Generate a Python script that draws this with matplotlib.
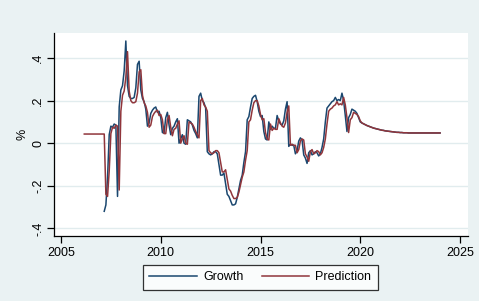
import matplotlib
matplotlib.use("Agg")
import matplotlib.pyplot as plt
import numpy as np

plt.rcParams['font.family'] = ['Liberation Sans', 'DejaVu Sans']

# Monthly data. Growth starts 2007-03; Prediction starts 2006-03.
growth_start = 2007 + 2 / 12
pred_start = 2006 + 2 / 12

growth_main = [
    -0.32, -0.29, -0.16, 0.04, 0.08, 0.075, 0.09, 0.085, -0.25, 0.17,
    0.25, 0.27, 0.34, 0.48, 0.27, 0.22, 0.21, 0.21, 0.215, 0.26,
    0.37, 0.385, 0.25, 0.21, 0.195, 0.16, 0.08, 0.095, 0.14, 0.155,
    0.165, 0.17, 0.145, 0.15, 0.12, 0.05, 0.047, 0.12, 0.145, 0.085,
    0.04, 0.07, 0.08, 0.10, 0.115, 0.0, 0.02, 0.04, 0.0, -0.005,
    0.11, 0.105, 0.10, 0.085, 0.06, 0.045, 0.025, 0.22, 0.235, 0.20,
    0.19, 0.165, -0.04, -0.05, -0.055, -0.05, -0.04, -0.04, -0.05, -0.10,
    -0.15, -0.15, -0.14, -0.19, -0.24, -0.25, -0.27, -0.29, -0.29, -0.285,
    -0.255, -0.215, -0.175, -0.15, -0.09, -0.04, 0.11, 0.125, 0.17, 0.21,
    0.22, 0.225, 0.195, 0.15, 0.125, 0.13, 0.055, 0.02, 0.015, 0.10,
    0.065, 0.08, 0.07, 0.07, 0.13, 0.105, 0.09, 0.085, 0.105, 0.16,
    0.195, -0.015, -0.005, -0.01, -0.01, -0.05, -0.035, 0.01, 0.025, 0.015,
    -0.055, -0.07, -0.095, -0.045, -0.035, -0.055, -0.05, -0.04, -0.045, -0.06,
    -0.05, -0.02, 0.02, 0.10, 0.165, 0.175, 0.185, 0.195, 0.20, 0.215,
    0.20, 0.205, 0.20, 0.235, 0.20, 0.13, 0.055, 0.12, 0.135, 0.16,
    0.155, 0.15, 0.14, 0.12, 0.10,
]

prediction_main = [
    0.043, 0.043, 0.043, 0.043, 0.043, 0.043, 0.043, 0.043, 0.043, 0.043,
    0.043, 0.043, 0.043,
    -0.24, -0.25, -0.13, 0.045, 0.075, 0.07, 0.085, 0.08, -0.22, 0.15,
    0.225, 0.245, 0.31, 0.43, 0.245, 0.20, 0.19, 0.19, 0.195, 0.235,
    0.335, 0.345, 0.225, 0.19, 0.175, 0.145, 0.075, 0.085, 0.125, 0.14,
    0.15, 0.155, 0.13, 0.135, 0.11, 0.045, 0.045, 0.11, 0.13, 0.075,
    0.035, 0.065, 0.07, 0.09, 0.105, 0.0, 0.02, 0.035, 0.0, -0.005,
    0.10, 0.095, 0.09, 0.075, 0.055, 0.04, 0.025, 0.20, 0.21, 0.18,
    0.17, 0.15, -0.035, -0.045, -0.05, -0.045, -0.035, -0.035, -0.045, -0.09,
    -0.135, -0.135, -0.125, -0.17, -0.215, -0.225, -0.245, -0.26, -0.26, -0.255,
    -0.23, -0.195, -0.16, -0.135, -0.08, -0.035, 0.10, 0.11, 0.155, 0.19,
    0.20, 0.20, 0.175, 0.135, 0.11, 0.115, 0.05, 0.02, 0.015, 0.09,
    0.06, 0.07, 0.065, 0.065, 0.115, 0.095, 0.08, 0.075, 0.095, 0.145,
    0.175, -0.01, -0.005, -0.01, -0.01, -0.045, -0.03, 0.01, 0.02, 0.015,
    -0.05, -0.065, -0.085, -0.04, -0.03, -0.05, -0.045, -0.035, -0.04, -0.055,
    -0.045, -0.02, 0.02, 0.09, 0.15, 0.16, 0.165, 0.175, 0.18, 0.195,
    0.18, 0.185, 0.18, 0.215, 0.18, 0.12, 0.05, 0.11, 0.12, 0.145,
    0.14, 0.135, 0.125, 0.105,
]

# Shared smooth forecast tail (2020-02 .. 2024-01)
tail = [
    0.095, 0.091, 0.087, 0.083, 0.080, 0.077, 0.074, 0.071, 0.069, 0.067,
    0.065, 0.063, 0.061, 0.060, 0.058, 0.057, 0.056, 0.055, 0.054, 0.053,
    0.052, 0.051, 0.051, 0.050, 0.050, 0.049, 0.049, 0.049, 0.048, 0.048,
    0.048, 0.048, 0.048, 0.048, 0.048, 0.048, 0.048, 0.048, 0.048, 0.048,
    0.048, 0.048, 0.048, 0.048, 0.048, 0.048, 0.048, 0.048,
]

growth = np.array(growth_main + tail)
prediction = np.array(prediction_main + tail)
t_growth = growth_start + np.arange(len(growth)) / 12
t_pred = pred_start + np.arange(len(prediction)) / 12

xticks = [2005, 2010, 2015, 2020, 2025]
yticks = [-0.4, -0.2, 0.0, 0.2, 0.4]
ytick_labels = ["-.4", "-.2", "0", ".2", ".4"]

bg = "#EAF2F3"
grid_c = "#E1ECEE"
c_growth = "#1A476F"
c_pred = "#90353B"

fig = plt.figure(figsize=(4.79, 3.01), dpi=100, facecolor=bg)
ax = fig.add_axes([54 / 479, 1 - 236 / 301, 414 / 479, 203 / 301])
ax.set_facecolor("white")

for y in yticks:
    ax.axhline(y, color=grid_c, lw=1.0, zorder=0)

ax.plot(t_growth, growth, color=c_growth, lw=1.1, label="Growth", zorder=2)
ax.plot(t_pred, prediction, color=c_pred, lw=1.1, label="Prediction", zorder=3)

ax.set_xlim(2004.649, 2025.401)
ax.set_ylim(-0.436, 0.5176)

for s in ["top", "right"]:
    ax.spines[s].set_visible(False)
for s in ["left", "bottom"]:
    ax.spines[s].set_color("black")
    ax.spines[s].set_linewidth(0.9)

ax.set_xticks(xticks)
ax.set_xticklabels([str(x) for x in xticks], fontsize=9)
ax.set_yticks(yticks)
ax.set_yticklabels(ytick_labels, fontsize=9, rotation=90, va="center")
ax.tick_params(axis="both", direction="out", length=5, width=0.9, color="black", pad=3)
ax.tick_params(axis="y", pad=2)
ax.set_ylabel("%", fontsize=9, labelpad=3)

leg = fig.legend(loc="center", bbox_to_anchor=(0.5438, 0.0781), ncol=2,
                 fontsize=9, frameon=True, fancybox=False,
                 handlelength=3.8, handletextpad=0.5, columnspacing=1.45,
                 borderpad=0.55, borderaxespad=0)
leg.get_frame().set_edgecolor("black")
leg.get_frame().set_linewidth(0.9)
leg.get_frame().set_facecolor("white")

fig.savefig("out.png", dpi=100, facecolor=bg)
